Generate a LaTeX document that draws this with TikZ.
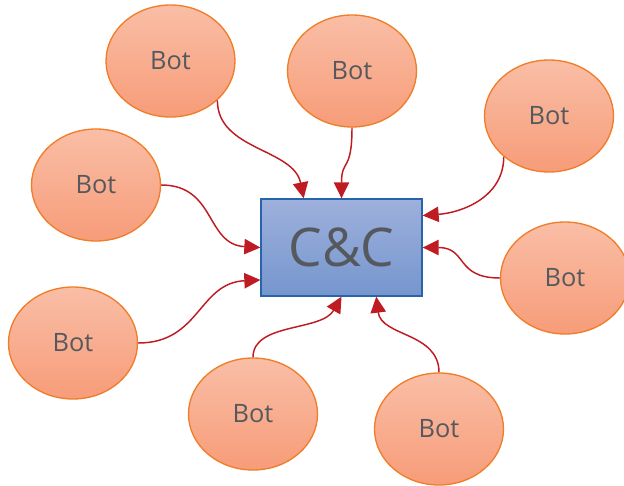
\documentclass[tikz,border=0pt]{standalone}
\usepackage{fontspec}
\setmainfont{Open Sans}
\usetikzlibrary{arrows.meta,calc,shapes.geometric}
\definecolor{botTop}{RGB}{249,190,166}
\definecolor{botBot}{RGB}{247,156,121}
\definecolor{botLine}{RGB}{240,125,40}
\definecolor{ccTop}{RGB}{158,176,220}
\definecolor{ccBot}{RGB}{117,150,206}
\definecolor{ccLine}{RGB}{40,100,172}
\definecolor{txt}{RGB}{85,89,94}
\definecolor{conn}{RGB}{190,28,34}
\tikzset{
  bot/.style={ellipse, draw=botLine, line width=1pt, top color=botTop, bottom color=botBot,
    minimum width=96.75pt, minimum height=84pt, inner sep=0pt, text=txt,
    font=\fontsize{19pt}{22pt}\selectfont},
  ccbox/.style={rectangle, draw=ccLine, line width=1pt, top color=ccTop, bottom color=ccBot,
    minimum width=120.75pt, minimum height=72.75pt, inner sep=0pt, text=txt,
    font=\fontsize{40pt}{46pt}\selectfont},
  conarrow/.style={draw=conn, line width=1.1pt, -{Triangle[length=12pt,width=11.5pt]}}
}
\begin{document}
\begin{tikzpicture}[x=0.75pt,y=-0.75pt]
\useasboundingbox (0,0) rectangle (624,485);
\clip (0,0) rectangle (624,485);
\node[ccbox] (cc) at (341.5,247.5) {C\&C};
\node[bot] (b1) at (170.5,61) {Bot};
\node[bot] (b2) at (352,71) {Bot};
\node[bot] (b3) at (549,116) {Bot};
\node[bot] (b4) at (96,185) {Bot};
\node[bot] (b5) at (565,278) {Bot};
\node[bot] (b6) at (73,343) {Bot};
\node[bot] (b7) at (253,414) {Bot};
\node[bot] (b8) at (439,429) {Bot};
\draw[conarrow] (b1.-40) .. controls +(0,50) and +(-10,-50) .. ($(cc.north west)!0.267!(cc.north east)$);
\draw[conarrow] (b2.south) .. controls +(0,45) and +(0,-40) .. (cc.north);
\draw[conarrow] (b3.222) .. controls +(0,40) and +(40,-3) .. ($(cc.north east)!0.175!(cc.south east)$);
\draw[conarrow] (b4.east) .. controls +(55,0) and +(-55,-3) .. (cc.west);
\draw[conarrow] (b5.west) .. controls +(-45,0) and +(45,0) .. (cc.east);
\draw[conarrow] (b6.east) .. controls +(62,0) and +(-62,3) .. ($(cc.north west)!0.83!(cc.south west)$);
\draw[conarrow] (b7.north) .. controls +(0,-35) and +(-20,35) .. (cc.south);
\draw[conarrow] (b8.north) .. controls +(0,-40) and +(5,40) .. ($(cc.south west)!0.714!(cc.south east)$);
\end{tikzpicture}
\end{document}
